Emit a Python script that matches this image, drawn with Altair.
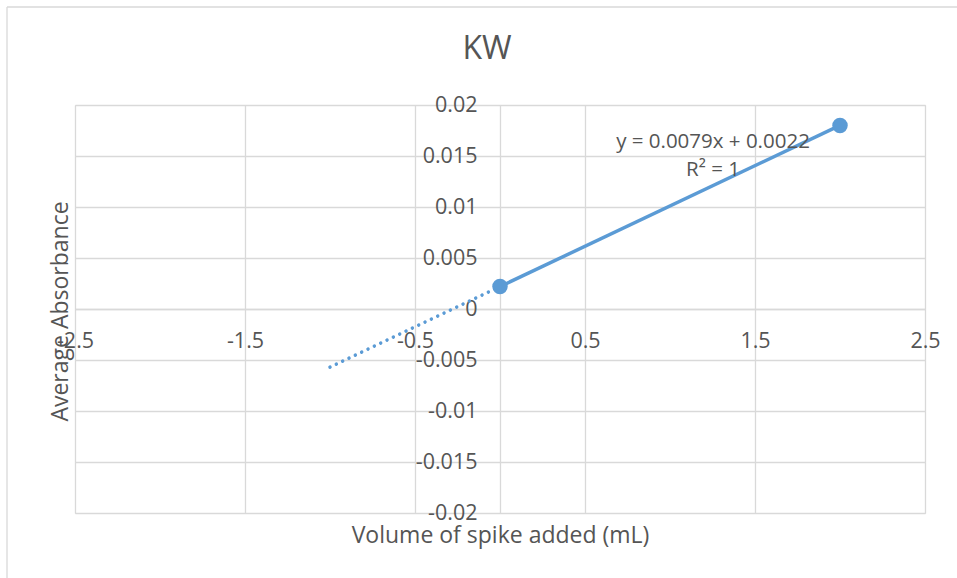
import altair as alt
import pandas as pd

# Measured points: spike volume (mL) vs average absorbance
spike_volume = [0, 2]
avg_absorbance = [0.0022, 0.018]

# Linear trendline y = 0.0079x + 0.0022 (R² = 1)
slope = 0.0079
intercept = 0.0022
fit_range = [0, 2]          # solid part of the trendline
backcast_range = [-1, 0]    # dotted extrapolation backwards

x_ticks = [-2.5, -1.5, -0.5, 0.5, 1.5, 2.5]
y_ticks = [0.02, 0.015, 0.01, 0.005, 0, -0.005, -0.01, -0.015, -0.02]

FONT = "Open Sans"
TEXT = "#555555"
GRID = "#d9d9d9"
BLUE = "#5B9BD5"

W, H = 850, 408

points = pd.DataFrame({"x": spike_volume, "y": avg_absorbance})
fit = pd.DataFrame({"x": fit_range, "y": [slope * v + intercept for v in fit_range]})
back = pd.DataFrame({"x": backcast_range, "y": [slope * v + intercept for v in backcast_range]})

x_scale = alt.Scale(domain=[-2.5, 2.5], nice=False, zero=False)
y_scale = alt.Scale(domain=[-0.02, 0.02], nice=False, zero=False)

x_axis = alt.Axis(
    values=x_ticks, title="Volume of spike added (mL)", offset=-H / 2,
    grid=True, gridColor=GRID, gridWidth=1.3, domainColor=GRID, domainWidth=1.3,
    ticks=False, labelPadding=21, labelFlush=False, labelOverlap=False,
    labelFont=FONT, labelFontSize=21.5, labelColor=TEXT,
    labelExpr="toString(datum.value)",
    titleFont=FONT, titleFontSize=23, titleFontWeight="normal", titleColor=TEXT,
    titleX=W / 2, titleY=226, titleBaseline="middle", titleAnchor="middle",
)
y_axis = alt.Axis(
    values=y_ticks, title="Average Absorbance", offset=-W / 2,
    grid=True, gridColor=GRID, gridWidth=1.3, domainColor=GRID, domainWidth=1.3,
    ticks=False, labelPadding=23, labelOverlap=False, labelFlush=False,
    labelFont=FONT, labelFontSize=21.5, labelColor=TEXT, labelBaseline="middle",
    labelExpr="toString(datum.value)",
    titleFont=FONT, titleFontSize=23, titleFontWeight="normal", titleColor=TEXT,
    titleAngle=-90, titleX=-440, titleY=H / 2 + 2, titleBaseline="middle", titleAnchor="middle",
)

dots = alt.Chart(points).mark_circle(size=240, color=BLUE, opacity=1).encode(
    x=alt.X("x:Q", scale=x_scale, axis=x_axis),
    y=alt.Y("y:Q", scale=y_scale, axis=y_axis),
)

solid = alt.Chart(fit).mark_line(color=BLUE, strokeWidth=3.5).encode(
    x=alt.X("x:Q", scale=x_scale), y=alt.Y("y:Q", scale=y_scale)
)

dotted = alt.Chart(back).mark_line(
    color=BLUE, strokeWidth=3.5, strokeDash=[0.01, 7], strokeCap="round"
).encode(x=alt.X("x:Q", scale=x_scale), y=alt.Y("y:Q", scale=y_scale))

label_df = pd.DataFrame({
    "line": [f"y = {slope}x + {intercept}", "R² = 1"],
    "row": [0, 1],
})
eq_label = alt.Chart(label_df).mark_text(
    font=FONT, fontSize=20.5, color=TEXT, align="center", baseline="middle"
).encode(
    text="line:N", x=alt.value(638), y=alt.value(37),
).transform_filter("datum.row == 0")
r2_label = alt.Chart(label_df).mark_text(
    font=FONT, fontSize=20.5, color=TEXT, align="center", baseline="middle"
).encode(
    text="line:N", x=alt.value(638), y=alt.value(65),
).transform_filter("datum.row == 1")

# Chart title, drawn as text so the outer frame does not push it around
title_df = pd.DataFrame({"t": ["KW"]})
title = alt.Chart(title_df).mark_text(
    font=FONT, fontSize=32, color=TEXT, align="center", baseline="alphabetic"
).encode(text="t:N", x=alt.value(412), y=alt.value(-46))

# Chart-area frame (left and top edges)
frame_df = pd.DataFrame({"k": [0]})
frame_left = alt.Chart(frame_df).mark_rule(color=GRID, strokeWidth=1.3).encode(
    x=alt.value(-68), y=alt.value(-98), y2=alt.value(480)
)
frame_top = alt.Chart(frame_df).mark_rule(color=GRID, strokeWidth=1.3).encode(
    x=alt.value(-68), x2=alt.value(890), y=alt.value(-98)
)

chart = alt.layer(
    frame_left, frame_top, solid, dotted, dots, eq_label, r2_label, title
).properties(
    width=W, height=H,
    autosize=alt.AutoSizeParams(type="none"),
    padding={"left": 75, "top": 105, "right": 32, "bottom": 65},
).configure_view(stroke=None).configure(background="white")

chart.save("out.html", embed_options={"renderer": "svg", "actions": False})
